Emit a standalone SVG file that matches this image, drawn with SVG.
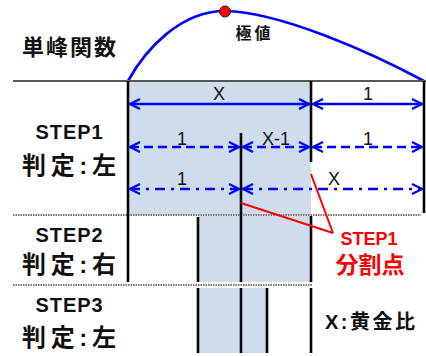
<svg xmlns="http://www.w3.org/2000/svg" width="426" height="356" viewBox="0 0 426 356">
<defs>
<marker id="ah" viewBox="0 0 12 12" refX="11" refY="6" markerWidth="12" markerHeight="12" markerUnits="userSpaceOnUse" orient="auto-start-reverse">
<path d="M1,1 L11,6 L1,11" fill="none" stroke="#0000FF" stroke-width="2.2"/>
</marker>
<style>
.lbl{font-family:"Liberation Sans","Noto Sans CJK JP",sans-serif;font-weight:bold;fill:#111}
.num{font-family:"Liberation Sans",sans-serif;font-size:18px;fill:#111;text-anchor:middle}
.shade{fill:#CFDCEB}
.bar{stroke:#000;stroke-width:2.6;fill:none}
.dot{stroke:#777;stroke-width:2;stroke-dasharray:1.5 1;fill:none}
.arr{stroke:#0000FF;stroke-width:2.6;fill:none;marker-start:url(#ah);marker-end:url(#ah)}
.dash{stroke-dasharray:9 5}
.dashdot{stroke-dasharray:10 6 3 6}
.red{stroke:#FF0000;stroke-width:2;fill:none}
</style>
</defs>

<g id="background">
<rect class="shade" x="128" y="82" width="183" height="133"/>
<rect class="shade" x="198" y="216" width="113" height="66"/>
<rect class="shade" x="198" y="288" width="69" height="65"/>
</g>

<g id="function">
<path d="M128,81 C145,50 180,11 225,11 C280,12 370,52 424,81" fill="none" stroke="#0000FF" stroke-width="2.6"/>
<line x1="13" y1="81" x2="426" y2="81" stroke="#555" stroke-width="2"/>
<circle cx="225" cy="11.5" r="5.5" fill="#FF0000" stroke="#222" stroke-width="1"/>
<text class="lbl" x="253" y="39" font-size="16" text-anchor="middle" textLength="35">極値</text>
<text class="lbl" x="69" y="55" font-size="22" text-anchor="middle" textLength="94">単峰関数</text>
</g>

<g id="separators">
<line class="dot" x1="13" y1="215" x2="421" y2="215"/>
<line class="dot" x1="13" y1="285" x2="312" y2="285"/>
</g>

<g id="bars">
<line class="bar" x1="128" y1="81" x2="128" y2="282"/>
<line class="bar" x1="311" y1="81" x2="311" y2="162"/>
<line class="bar" x1="311" y1="216" x2="311" y2="282"/>
<line class="bar" x1="311" y1="288" x2="311" y2="353"/>
<line class="bar" x1="424" y1="81" x2="424" y2="213"/>
<line class="bar" x1="241" y1="133" x2="241" y2="282"/>
<line class="bar" x1="241" y1="288" x2="241" y2="353"/>
<line class="bar" x1="198" y1="217" x2="198" y2="282"/>
<line class="bar" x1="198" y1="288" x2="198" y2="353"/>
<line class="bar" x1="267" y1="288" x2="267" y2="353"/>
</g>

<g id="connectors">
<line class="arr" x1="130" y1="104" x2="309" y2="104"/>
<line class="arr" x1="313" y1="104" x2="422" y2="104"/>
<line class="arr dash" x1="130" y1="147" x2="239" y2="147"/>
<line class="arr dash" x1="243" y1="147" x2="309" y2="147"/>
<line class="arr dash" x1="313" y1="147" x2="422" y2="147"/>
<line class="arr dashdot" x1="130" y1="189" x2="239" y2="189"/>
<line class="arr dashdot" x1="243" y1="189" x2="422" y2="189"/>
<line class="red" x1="241" y1="203" x2="333" y2="233"/>
<line class="red" x1="311" y1="174" x2="333" y2="233"/>
</g>

<g id="dim-labels">
<text class="num" x="219" y="100">X</text>
<text class="num" x="368" y="100">1</text>
<text class="num" x="182" y="145">1</text>
<text class="num" x="276" y="145">X-1</text>
<text class="num" x="368" y="145">1</text>
<text class="num" x="182" y="185">1</text>
<text class="num" x="334" y="185">X</text>
</g>

<g id="step1">
<text class="lbl" x="69" y="139" font-size="20" text-anchor="middle" textLength="67">STEP1</text>
<text class="lbl" x="69" y="174" font-size="24" text-anchor="middle" textLength="94">判定:左</text>
</g>
<g id="step2">
<text class="lbl" x="69" y="242" font-size="20" text-anchor="middle" textLength="67">STEP2</text>
<text class="lbl" x="69" y="273" font-size="24" text-anchor="middle" textLength="94">判定:右</text>
</g>
<g id="step3">
<text class="lbl" x="69" y="312" font-size="20" text-anchor="middle" textLength="67">STEP3</text>
<text class="lbl" x="69" y="346" font-size="24" text-anchor="middle" textLength="94">判定:左</text>
</g>

<g id="split-note">
<text class="lbl" x="369" y="245" font-size="18" text-anchor="middle" textLength="57" style="fill:#FF0000">STEP1</text>
<text class="lbl" x="370" y="273" font-size="23" text-anchor="middle" textLength="69" style="fill:#FF0000">分割点</text>
</g>

<g id="legend">
<text class="lbl" x="370" y="329" font-size="20" text-anchor="middle" textLength="90">X:黄金比</text>
</g>
</svg>
